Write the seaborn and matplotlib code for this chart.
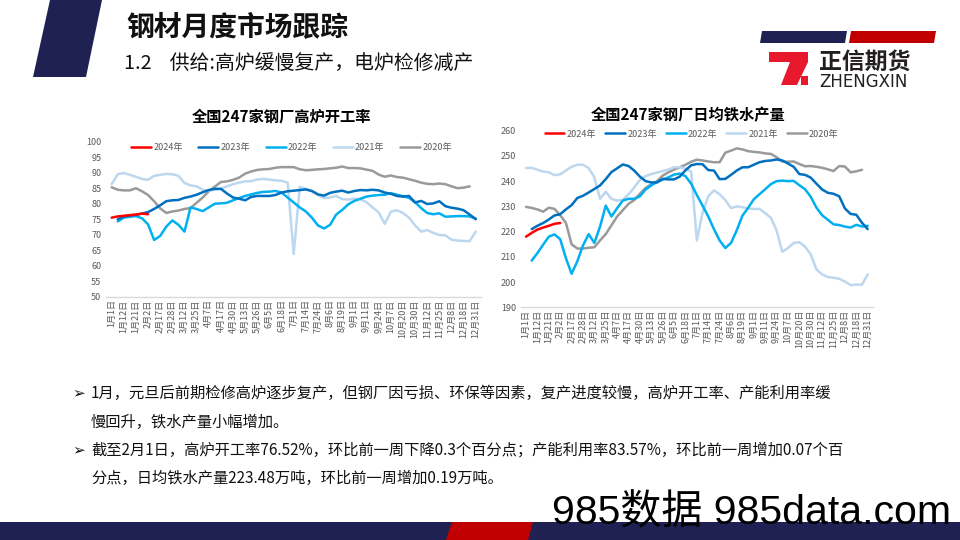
import matplotlib
matplotlib.use('Agg')
import matplotlib.pyplot as plt
import seaborn as sns
import pandas as pd
from matplotlib.patches import Polygon, Rectangle
from matplotlib.lines import Line2D

# ---------------- data ----------------
x_labels = ['1月1日', '1月12日', '1月21日', '2月2日', '2月17日', '2月28日', '3月12日', '3月25日',
            '4月7日', '4月17日', '4月30日', '5月13日', '5月26日', '6月5日', '6月18日', '7月1日',
            '7月14日', '7月24日', '8月6日', '8月19日', '9月1日', '9月11日', '9月24日', '10月7日',
            '10月20日', '10月30日', '11月12日', '11月25日', '12月8日', '12月18日', '12月31日']
years = ['2024年', '2023年', '2022年', '2021年', '2020年']
colors = ['#FF0000', '#0070C0', '#00B0F0', '#BDD7EE', '#9A9A9A']
N = None

# 全国247家钢厂高炉开工率 (%)
rate_2024 = [75.5, 75.9, 76.1, 76.3, 76.5, 76.8, 76.6] + [N] * 54
rate_2023 = [N, 75.0, 75.9, 76.2, 76.4, 76.8, 77.3, 78.3, 79.5, 80.8,
             81.1, 81.2, 81.9, 82.3, 82.9, 83.7, 84.4, 84.8, 84.8, 83.3,
             82.0, 81.6, 81.1, 82.2, 82.5, 82.5, 82.5, 82.8, 83.6, 84.0,
             84.2, 84.4, 84.6, 84.1, 83.0, 82.6, 83.5, 83.9, 84.2, 83.6,
             84.1, 84.4, 84.3, 84.5, 84.3, 83.6, 83.2, 82.5, 82.3, 82.5,
             80.4, 80.9, 79.9, 80.1, 80.8, 79.2, 78.7, 78.4, 77.9, 76.5, 75.0]
rate_2022 = [N, 74.3, 75.5, 75.8, 76.0, 75.3, 73.3, 68.3, 69.6, 72.6,
             74.6, 73.2, 71.0, 78.8, 78.3, 77.6, 78.8, 80.0, 80.1, 80.3,
             81.1, 81.8, 82.5, 83.0, 83.5, 83.8, 83.9, 84.1, 83.6, 82.0,
             80.4, 78.8, 77.5, 75.5, 73.0, 72.0, 73.2, 76.5, 78.0, 79.8,
             80.9, 81.6, 82.3, 82.6, 82.8, 82.9, 83.4, 82.9, 82.4, 81.9,
             80.5, 78.6, 77.0, 76.6, 76.9, 75.8, 75.9, 76.0, 76.0, 75.9, 75.2]
rate_2021 = [86.3, 89.5, 89.9, 89.3, 88.7, 88.0, 87.7, 89.0, 89.3, 89.6,
             89.5, 89.0, 86.7, 85.9, 85.6, 84.5, 84.2, 84.5, 84.8, 85.6,
             86.3, 86.8, 87.2, 87.3, 87.8, 88.0, 87.8, 87.5, 87.4, 86.8,
             63.8, 85.4, 84.8, 84.0, 82.8, 81.8, 82.0, 82.5, 81.5, 81.3,
             81.6, 81.4, 80.5, 78.8, 77.2, 73.5, 77.4, 77.9, 77.0, 75.5,
             73.0, 71.0, 71.5, 70.6, 69.9, 69.8, 68.4, 68.1, 68.0, 67.9, 71.0]
rate_2020 = [85.3, 84.5, 84.3, 84.3, 85.0, 84.0, 82.8, 80.8, 78.5, 77.0,
             77.5, 77.8, 78.3, 78.6, 80.3, 82.0, 84.0, 85.5, 87.0, 87.2,
             87.7, 88.4, 89.7, 90.4, 90.9, 91.1, 91.2, 91.6, 91.8, 91.8,
             91.8, 91.1, 90.8, 90.9, 91.1, 91.2, 91.4, 91.6, 92.0, 91.5,
             91.5, 91.4, 91.0, 90.6, 89.4, 88.7, 89.1, 88.6, 88.4, 87.9,
             87.4, 86.8, 86.4, 86.3, 86.5, 86.3, 85.6, 85.0, 85.2, 85.6, N]

# 全国247家钢厂日均铁水产量 (万吨)
iron_2024 = [218.0, 219.5, 220.8, 221.6, 222.3, 223.1, 223.4] + [N] * 54
iron_2023 = [N, 221.0, 222.3, 223.4, 224.8, 226.4, 226.9, 228.8, 230.5, 233.3,
             234.2, 235.5, 236.9, 238.3, 240.8, 243.6, 245.1, 246.6, 246.0, 244.2,
             241.8, 240.0, 239.5, 239.5, 240.9, 240.7, 240.7, 241.8, 244.3, 246.3,
             246.8, 246.7, 244.4, 244.2, 240.8, 240.9, 242.5, 244.2, 245.5, 245.5,
             246.5, 247.5, 248.0, 248.2, 248.6, 248.2, 247.0, 245.7, 242.8, 242.5,
             241.4, 239.0, 236.7, 235.4, 235.0, 234.0, 229.2, 227.0, 226.7, 223.5, 221.0]
iron_2022 = [N, 208.5, 211.5, 214.8, 218.0, 218.9, 217.0, 209.5, 203.3, 208.2,
             214.5, 219.0, 215.5, 222.0, 230.3, 226.0, 229.3, 232.3, 233.0, 233.0,
             234.0, 236.7, 238.3, 239.7, 240.6, 241.5, 242.6, 243.0, 242.0, 239.0,
             234.5, 230.3, 226.0, 221.0, 216.5, 213.5, 215.5, 220.5, 226.3, 229.4,
             232.8, 234.8, 236.8, 238.8, 240.0, 240.2, 240.0, 240.1, 238.4, 236.8,
             233.8, 229.5, 226.5, 224.7, 222.9, 222.6, 222.0, 221.6, 222.7, 222.0, 222.3]
iron_2021 = [245.2, 245.3, 244.5, 243.8, 243.5, 242.4, 242.7, 244.2, 245.7, 246.5,
             246.5, 245.2, 241.5, 233.0, 235.8, 233.0, 232.3, 232.6, 234.8, 237.5,
             240.5, 242.0, 242.8, 243.4, 244.0, 244.6, 245.5, 245.5, 245.0, 243.8,
             216.5, 227.5, 234.0, 236.3, 234.8, 232.5, 229.3, 230.0, 229.7, 229.2,
             229.0, 229.0, 227.3, 225.5, 220.5, 212.0, 213.5, 215.5, 215.8, 214.0,
             211.0, 205.0, 203.0, 202.0, 201.7, 201.3, 200.2, 198.8, 199.0, 199.0, 203.0]
iron_2020 = [229.8, 229.4, 228.8, 227.9, 229.5, 229.0, 226.5, 223.5, 215.0, 213.3,
             213.3, 213.6, 213.8, 216.5, 219.0, 222.5, 226.0, 228.5, 231.0, 232.5,
             235.0, 237.3, 238.8, 240.0, 242.2, 243.5, 244.6, 245.5, 246.5, 247.7,
             248.5, 248.2, 247.8, 247.5, 247.5, 251.3, 252.1, 253.0, 252.6, 251.9,
             251.6, 251.4, 251.0, 250.8, 249.5, 247.8, 247.7, 247.8, 246.8, 245.9,
             246.0, 245.7, 245.3, 244.7, 244.0, 246.0, 245.8, 243.5, 243.9, 244.5, N]

rate_series = [rate_2024, rate_2023, rate_2022, rate_2021, rate_2020]
iron_series = [iron_2024, iron_2023, iron_2022, iron_2021, iron_2020]


def to_long(series_list):
    rows = []
    for yr, vals in zip(years, series_list):
        for i, v in enumerate(vals):
            if v is not None:
                rows.append({'idx': i, 'value': v, 'year': yr})
    return pd.DataFrame(rows)


# ---------------- style ----------------
sns.set_theme(style='white')
plt.rcParams['font.family'] = ['Noto Sans CJK SC', 'DejaVu Sans']
plt.rcParams['axes.unicode_minus'] = False

NAVY = '#1F2153'
RED = '#C00000'
TICK = '#595959'

fig = plt.figure(figsize=(9.6, 5.4), dpi=100)
fig.patch.set_facecolor('white')

# background layer in pixel coordinates
bg = fig.add_axes([0, 0, 1, 1])
bg.set_xlim(0, 960)
bg.set_ylim(540, 0)
bg.axis('off')

bg.add_patch(Polygon([(50, 0), (102, 0), (86, 77), (33, 77)], closed=True, color=NAVY, lw=0))
bg.text(126, 28, '钢材月度市场跟踪', fontsize=20, fontweight='bold', color='#111111',
        ha='left', va='center')
bg.text(124, 63, '1.2    供给:高炉缓慢复产，电炉检修减产', fontsize=14.3, color='#111111',
        ha='left', va='center')

# logo
bg.add_patch(Polygon([(762, 31), (847, 31), (845, 43), (760, 43)], closed=True, color=NAVY, lw=0))
bg.add_patch(Polygon([(851, 31), (936, 31), (934, 43), (849, 43)], closed=True, color=RED, lw=0))
ZRED = '#E8192C'
bg.add_patch(Polygon([(769, 52), (808, 52), (808, 62), (769, 62)], closed=True, color=ZRED, lw=0))
bg.add_patch(Polygon([(790, 62), (808, 62), (797, 85), (781, 85)], closed=True, color=ZRED, lw=0))
bg.add_patch(Polygon([(801, 76), (808, 76), (808, 85), (801, 85)], closed=True, color=ZRED, lw=0))
bg.text(819, 62, '正信期货', fontsize=16.5, fontweight='bold', color='#231F20', ha='left', va='center')
bg.text(819, 82, 'ZHENGXIN', fontsize=12, color='#231F20', ha='left', va='center',
        family=['DejaVu Sans'])

# bottom band
bg.add_patch(Rectangle((0, 522), 960, 18, color=NAVY, lw=0))
bg.add_patch(Polygon([(452, 522), (533, 522), (528, 540), (446, 540)], closed=True, color=RED, lw=0))

# body text
body_fs = 11.0
bg.text(72, 393, '➢', fontsize=11, color='#111111', ha='left', va='center', family=['DejaVu Sans'])
bg.text(91, 393, '1月，元旦后前期检修高炉逐步复产，但钢厂因亏损、环保等因素，复产进度较慢，高炉开工率、产能利用率缓',
        fontsize=body_fs, color='#111111', ha='left', va='center')
bg.text(91, 422, '慢回升，铁水产量小幅增加。', fontsize=body_fs, color='#111111', ha='left', va='center')
bg.text(72, 450, '➢', fontsize=11, color='#111111', ha='left', va='center', family=['DejaVu Sans'])
bg.text(91, 450, '截至2月1日，高炉开工率76.52%，环比前一周下降0.3个百分点；产能利用率83.57%，环比前一周增加0.07个百',
        fontsize=body_fs, color='#111111', ha='left', va='center')
bg.text(91, 478, '分点，日均铁水产量223.48万吨，环比前一周增加0.19万吨。', fontsize=body_fs, color='#111111',
        ha='left', va='center')

# watermark
bg.text(552, 524, '985数据 985data.com', fontsize=29.5, color='black', ha='left', va='baseline',
        family=['Liberation Sans', 'Noto Sans CJK SC'], zorder=5)

# ---------------- charts ----------------
draw_order = ['2020年', '2021年', '2022年', '2023年', '2024年']
pal = dict(zip(years, colors))


def make_chart(rect, series, ylim, yticks, title, title_xy, leg_anchor, colspace):
    ax = fig.add_axes(rect)
    ax.set_facecolor('none')
    df = to_long(series)
    sns.lineplot(data=df, x='idx', y='value', hue='year', hue_order=draw_order, palette=pal,
                 linewidth=1.8, ax=ax, legend=False, estimator=None, sort=True)
    ax.set_xlim(-0.9, 60.9)
    ax.set_ylim(*ylim)
    ax.set_yticks(yticks)
    ax.set_xticks(range(0, 61, 2))
    ax.set_xticklabels(x_labels, rotation=90)
    ax.set_xlabel('')
    ax.set_ylabel('')
    for s in ['top', 'right', 'left']:
        ax.spines[s].set_visible(False)
    ax.spines['bottom'].set_color('#D9D9D9')
    ax.spines['bottom'].set_linewidth(1.0)
    ax.tick_params(axis='both', length=0, labelsize=6.5, labelcolor=TICK)
    ax.tick_params(axis='x', pad=2)
    ax.tick_params(axis='y', pad=3.5)
    ax.grid(False)
    handles = [Line2D([], [], color=c, lw=1.8) for c in colors]
    ax.legend(handles, years, ncol=5, loc='center', bbox_to_anchor=leg_anchor, frameon=False,
              fontsize=6.5, handlelength=2.2, handletextpad=0.25, columnspacing=colspace,
              labelcolor=TICK, borderaxespad=0, borderpad=0)
    fig.text(title_xy[0] / 960, 1 - title_xy[1] / 540, title, fontsize=11, fontweight='bold',
             color='black', ha='center', va='center')
    return ax


make_chart([106.2 / 960, 1 - 296.7 / 540, 375 / 960, 155 / 540], rate_series, (50, 100),
           list(range(50, 101, 5)), '全国247家钢厂高炉开工率', (281, 117), (0.494, 0.961), 1.74)
make_chart([520.9 / 960, 1 - 307.3 / 540, 351.9 / 960, 176.6 / 540], iron_series, (190, 260),
           list(range(190, 261, 10)), '全国247家钢厂日均铁水产量', (688, 115), (0.485, 0.981), 1.0)

fig.savefig('out.png', dpi=100, facecolor='white')
